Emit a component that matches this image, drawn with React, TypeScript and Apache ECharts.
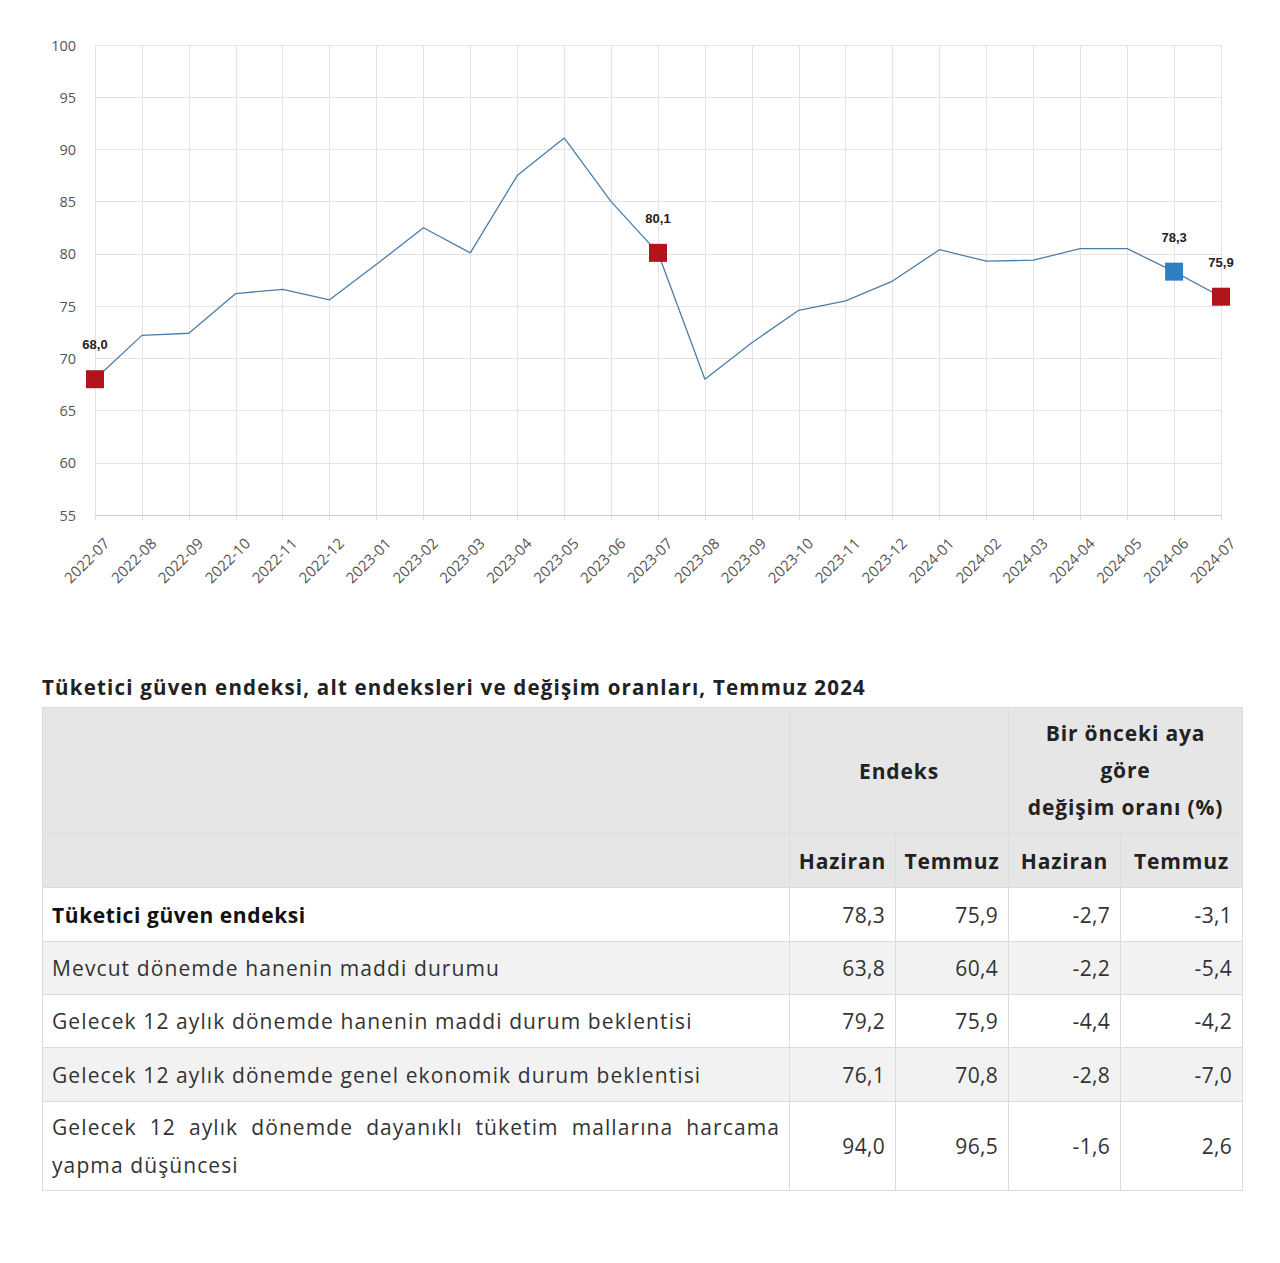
import React, { useEffect, useRef } from "react";
import * as echarts from "echarts";

const months = [
  "2022-07", "2022-08", "2022-09", "2022-10", "2022-11", "2022-12",
  "2023-01", "2023-02", "2023-03", "2023-04", "2023-05", "2023-06",
  "2023-07", "2023-08", "2023-09", "2023-10", "2023-11", "2023-12",
  "2024-01", "2024-02", "2024-03", "2024-04", "2024-05", "2024-06", "2024-07",
];
const indexValues = [
  68.0, 72.2, 72.4, 76.2, 76.6, 75.6,
  79.0, 82.5, 80.1, 87.5, 91.1, 85.0,
  80.1, 68.0, 71.5, 74.6, 75.5, 77.4,
  80.4, 79.3, 79.4, 80.5, 80.5, 78.3, 75.9,
];
// highlighted points: month -> marker colour
const highlightMonths = ["2022-07", "2023-07", "2024-06", "2024-07"];
const highlightColors = ["#b3141c", "#b3141c", "#2f7fc4", "#b3141c"];

const yMin = 55;
const yMax = 100;
const yStep = 5;

const tableTitle = "Tüketici güven endeksi, alt endeksleri ve değişim oranları, Temmuz 2024";
const rowLabels = [
  "Tüketici güven endeksi",
  "Mevcut dönemde hanenin maddi durumu",
  "Gelecek 12 aylık dönemde hanenin maddi durum beklentisi",
  "Gelecek 12 aylık dönemde genel ekonomik durum beklentisi",
  "Gelecek 12 aylık dönemde dayanıklı tüketim mallarına harcama yapma düşüncesi",
];
const endeksHaziran = ["78,3", "63,8", "79,2", "76,1", "94,0"];
const endeksTemmuz = ["75,9", "60,4", "75,9", "70,8", "96,5"];
const degisimHaziran = ["-2,7", "-2,2", "-4,4", "-2,8", "-1,6"];
const degisimTemmuz = ["-3,1", "-5,4", "-4,2", "-7,0", "2,6"];

const FONT = "'Open Sans', 'Noto Sans', sans-serif";

function Chart() {
  const ref = useRef<HTMLDivElement | null>(null);
  useEffect(() => {
    if (!ref.current) return;
    const chart = echarts.init(ref.current, null, { renderer: "svg" });
    const data = indexValues.map((v, i) => {
      const h = highlightMonths.indexOf(months[i]);
      if (h < 0) return { value: v, symbol: "none" };
      return {
        value: v,
        symbol: "rect",
        symbolSize: 18,
        itemStyle: { color: highlightColors[h] },
        label: {
          show: true,
          position: "top",
          distance: 19,
          formatter: v.toFixed(1).replace(".", ","),
          fontFamily: "Arial, 'Liberation Sans', sans-serif",
          fontWeight: "bold",
          fontSize: 13,
          color: "#222",
        },
      };
    });
    chart.setOption({
      animation: false,
      grid: { left: 95, right: 59, top: 45, height: 470 },
      xAxis: {
        type: "category",
        data: months,
        boundaryGap: false,
        axisLine: { lineStyle: { color: "#cccccc" } },
        axisTick: { show: true, length: 5, lineStyle: { color: "#dddddd" } },
        axisLabel: {
          interval: 0,
          rotate: 45,
          margin: 14,
          align: "right",
          verticalAlign: "top",
          lineHeight: 32,
          color: "#555",
          fontSize: 15,
          fontFamily: FONT,
        },
        splitLine: { show: true, lineStyle: { color: "#e4e4e4" } },
      },
      yAxis: {
        type: "value",
        min: yMin,
        max: yMax,
        interval: yStep,
        axisLine: { show: false },
        axisTick: { show: false },
        axisLabel: { color: "#555", fontSize: 14.5, fontFamily: FONT, margin: 19 },
        splitLine: { show: true, lineStyle: { color: "#e4e4e4" } },
      },
      series: [
        {
          type: "line",
          data,
          showAllSymbol: true,
          lineStyle: { color: "#4d7ea8", width: 1.3 },
          itemStyle: { color: "#4d7ea8" },
          z: 3,
        },
      ],
    });
    return () => chart.dispose();
  }, []);
  return <div ref={ref} style={{ position: "absolute", left: 0, top: 0, width: 1280, height: 620 }} />;
}

const colWidths = [747, 106, 113, 112, 122];
const bodyRowHeights = [54, 53, 53, 54, 89];

export default function App() {
  useEffect(() => {
    document.body.style.margin = "0";
  }, []);
  const border = "1px solid #dcdcdc";
  const headCell: React.CSSProperties = {
    background: "#e6e6e6",
    border,
    fontWeight: 700,
    fontSize: 21,
    letterSpacing: "0.85px",
    color: "#222",
    textAlign: "center",
    verticalAlign: "middle",
    padding: "0 4px",
    whiteSpace: "nowrap",
  };
  const numCell: React.CSSProperties = {
    border,
    fontSize: 21,
    letterSpacing: "0.3px",
    color: "#333",
    textAlign: "right",
    verticalAlign: "middle",
    padding: "0 10px 0 6px",
  };
  return (
    <div style={{ position: "relative", width: 1280, height: 1263, background: "#fff", fontFamily: FONT }}>
      <Chart />
      <div
        style={{
          position: "absolute",
          left: 42,
          top: 673,
          fontSize: 20.5,
          letterSpacing: "1.2px",
          fontWeight: 700,
          color: "#222",
          whiteSpace: "nowrap",
        }}
      >
        {tableTitle}
      </div>
      <table
        style={{
          position: "absolute",
          left: 42,
          top: 707,
          width: 1200,
          borderCollapse: "collapse",
          tableLayout: "fixed",
          fontFamily: FONT,
        }}
      >
        <colgroup>
          {colWidths.map((w, i) => (
            <col key={i} style={{ width: w }} />
          ))}
        </colgroup>
        <tbody>
          <tr style={{ height: 126 }}>
            <td style={headCell}></td>
            <td style={headCell} colSpan={2}>Endeks</td>
            <td style={{ ...headCell, lineHeight: "37px" }} colSpan={2}>
              Bir önceki aya
              <br />
              göre
              <br />
              değişim oranı (%)
            </td>
          </tr>
          <tr style={{ height: 54 }}>
            <td style={headCell}></td>
            <td style={headCell}>Haziran</td>
            <td style={headCell}>Temmuz</td>
            <td style={headCell}>Haziran</td>
            <td style={headCell}>Temmuz</td>
          </tr>
          {rowLabels.map((label, i) => (
            <tr key={i} style={{ height: bodyRowHeights[i], background: i % 2 === 1 ? "#f2f2f2" : "#ffffff" }}>
              <td
                style={{
                  border,
                  fontSize: 21,
                  letterSpacing: i === 0 ? "0.6px" : "1.1px",
                  color: i === 0 ? "#111" : "#333",
                  fontWeight: i === 0 ? 700 : 400,
                  textAlign: "justify",
                  lineHeight: "38px",
                  verticalAlign: "middle",
                  padding: "0 9px",
                }}
              >
                {label}
              </td>
              <td style={numCell}>{endeksHaziran[i]}</td>
              <td style={numCell}>{endeksTemmuz[i]}</td>
              <td style={numCell}>{degisimHaziran[i]}</td>
              <td style={numCell}>{degisimTemmuz[i]}</td>
            </tr>
          ))}
        </tbody>
      </table>
    </div>
  );
}
